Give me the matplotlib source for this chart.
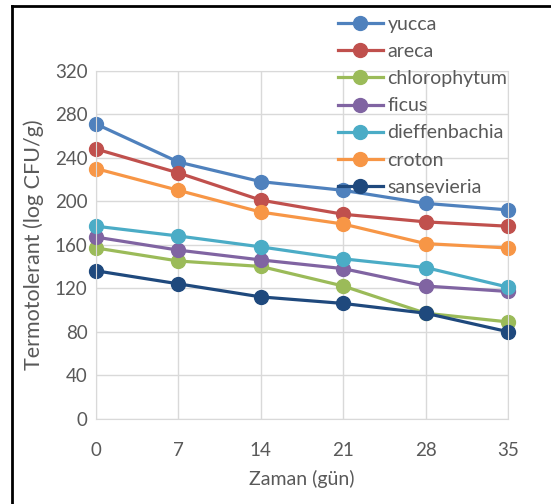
import matplotlib
matplotlib.use('Agg')
import matplotlib.pyplot as plt
from matplotlib.lines import Line2D

plt.rcParams['font.family'] = ['Lato', 'DejaVu Sans']

days = [0, 7, 14, 21, 28, 35]

yucca = [271, 236, 218, 210, 198, 192]
areca = [248, 226, 201, 188, 181, 177]
chlorophytum = [157, 145, 140, 122, 97, 89]
ficus = [167, 155, 146, 138, 122, 117]
dieffenbachia = [177, 168, 158, 147, 139, 121]
croton = [230, 210, 190, 179, 161, 157]
sansevieria = [136, 124, 112, 106, 97, 80]

series = [
    ('yucca', yucca, '#4F81BD'),
    ('areca', areca, '#C0504D'),
    ('chlorophytum', chlorophytum, '#9BBB59'),
    ('ficus', ficus, '#8064A2'),
    ('dieffenbachia', dieffenbachia, '#4BACC6'),
    ('croton', croton, '#F79646'),
    ('sansevieria', sansevieria, '#1F497D'),
]

fig = plt.figure(figsize=(5.51, 5.04), dpi=100)
ax = fig.add_axes([96 / 551, 1 - 418.7 / 504, (508 - 96) / 551, (418.7 - 70.7) / 504])

for name, vals, col in series:
    ax.plot(days, vals, color=col, lw=2.3, marker='o', ms=10, label=name,
            clip_on=False)

ax.set_xlim(0, 35)
ax.set_ylim(0, 320)
ax.set_xticks(days)
ax.set_yticks(range(0, 321, 40))
ax.grid(True, color='#d9d9d9', lw=1)
ax.set_axisbelow(True)
for s in ax.spines.values():
    s.set_color('#d9d9d9')
ax.tick_params(length=0, labelsize=13.5, colors='#595959')
ax.tick_params(axis='x', pad=17)
ax.tick_params(axis='y', pad=6)

ax.set_xlabel('Zaman (gün)', fontsize=14, color='#595959', labelpad=8)
ax.set_ylabel('Termotolerant (log CFU/g)', fontsize=15.5, color='#595959', labelpad=8)

leg = ax.legend(loc='upper left', bbox_to_anchor=(338 / 551, 1 - 16 / 504),
                bbox_transform=fig.transFigure, frameon=False, fontsize=14,
                handlelength=2.3, handletextpad=0.25, labelspacing=0.52,
                borderaxespad=0, borderpad=0)
for t in leg.get_texts():
    t.set_color('#595959')

# border of the screenshot (top and left only)
fig.add_artist(Line2D([12 / 551, 12 / 551], [0, 1 - 6 / 504], color='black', lw=2,
                      transform=fig.transFigure))
fig.add_artist(Line2D([12 / 551, 1], [1 - 6 / 504, 1 - 6 / 504], color='black', lw=2,
                      transform=fig.transFigure))

fig.savefig('out.png', dpi=100)
